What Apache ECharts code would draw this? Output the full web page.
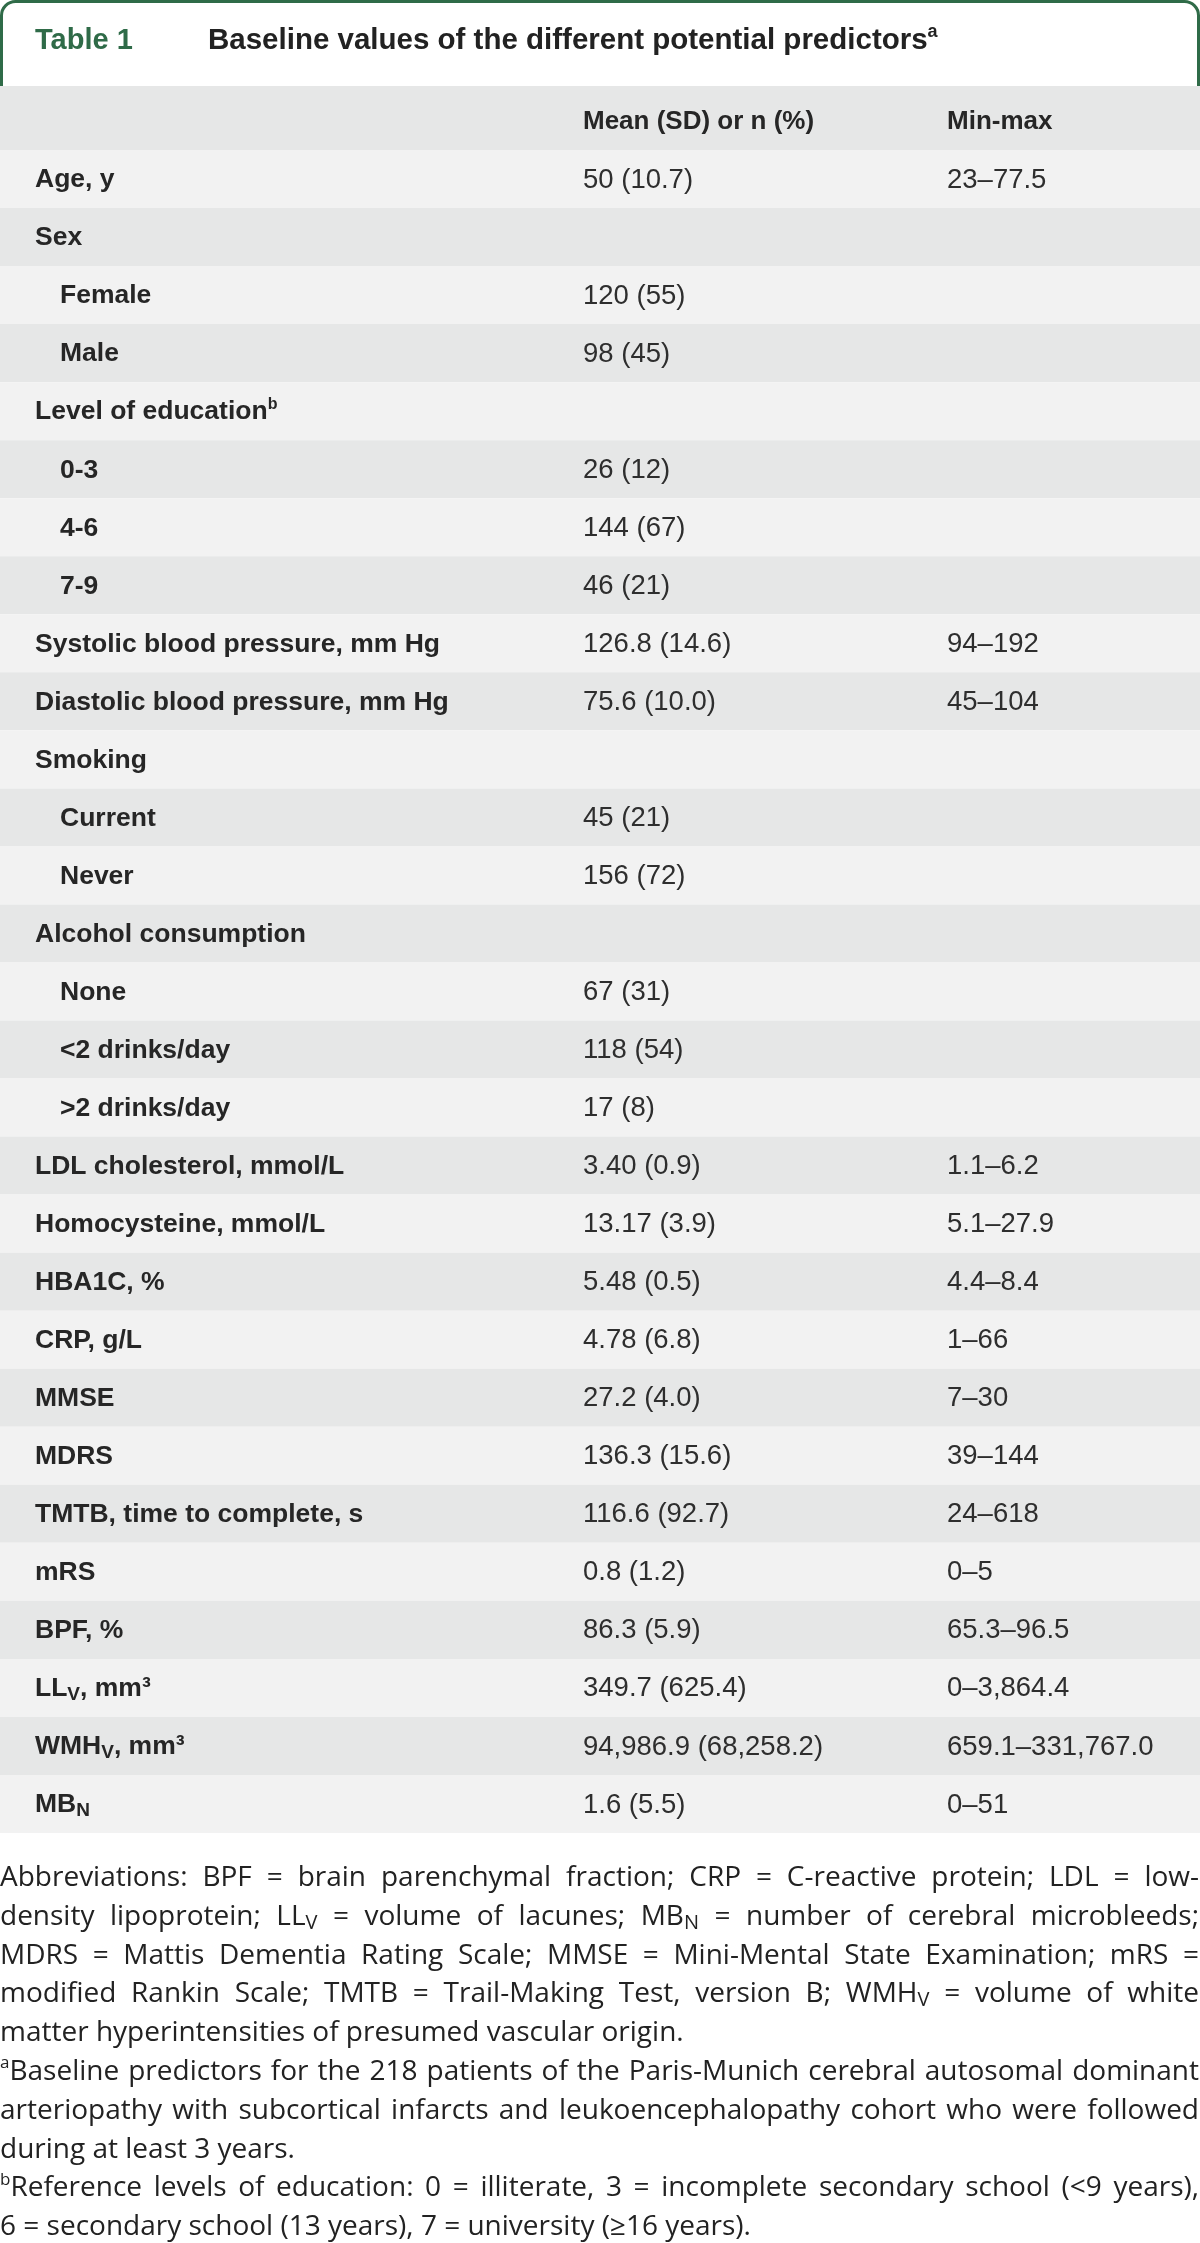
<!DOCTYPE html>
<html><head><meta charset="utf-8">
<script src="https://cdn.jsdelivr.net/npm/echarts@6/dist/echarts.min.js"></script>
<style>html,body{margin:0;padding:0;background:#fff}#c{width:1200px;height:2243px}</style>
</head><body><div id="c"></div>
<script>
// ---- DATA ----
const titleNumber = 'Table 1';
const titleText = 'Baseline values of the different potential predictors^a';
const columnHeaders = ['', 'Mean (SD) or n (%)', 'Min-max'];
const rowLabels = ['Age, y','Sex','Female','Male','Level of education^b','0-3','4-6','7-9',
  'Systolic blood pressure, mm Hg','Diastolic blood pressure, mm Hg','Smoking','Current','Never',
  'Alcohol consumption','None','<2 drinks/day','>2 drinks/day','LDL cholesterol, mmol/L',
  'Homocysteine, mmol/L','HBA1C, %','CRP, g/L','MMSE','MDRS','TMTB, time to complete, s','mRS',
  'BPF, %','LL_V, mm³','WMH_V, mm³','MB_N'];
const rowIndent = [0,0,1,1,0,1,1,1,0,0,0,1,1,0,1,1,1,0,0,0,0,0,0,0,0,0,0,0,0];
const meanValues = ['50 (10.7)','','120 (55)','98 (45)','','26 (12)','144 (67)','46 (21)',
  '126.8 (14.6)','75.6 (10.0)','','45 (21)','156 (72)','','67 (31)','118 (54)','17 (8)',
  '3.40 (0.9)','13.17 (3.9)','5.48 (0.5)','4.78 (6.8)','27.2 (4.0)','136.3 (15.6)','116.6 (92.7)',
  '0.8 (1.2)','86.3 (5.9)','349.7 (625.4)','94,986.9 (68,258.2)','1.6 (5.5)'];
const rangeValues = ['23–77.5','','','','','','','','94–192','45–104','','','','','','','',
  '1.1–6.2','5.1–27.9','4.4–8.4','1–66','7–30','39–144','24–618','0–5','65.3–96.5','0–3,864.4',
  '659.1–331,767.0','0–51'];
const footnoteLines = [
  'Abbreviations: BPF = brain parenchymal fraction; CRP = C-reactive protein; LDL = low-',
  'density lipoprotein; LL_V = volume of lacunes; MB_N = number of cerebral microbleeds;',
  'MDRS = Mattis Dementia Rating Scale; MMSE = Mini-Mental State Examination; mRS =',
  'modified Rankin Scale; TMTB = Trail-Making Test, version B; WMH_V = volume of white',
  'matter hyperintensities of presumed vascular origin.',
  '^aBaseline predictors for the 218 patients of the Paris-Munich cerebral autosomal dominant',
  'arteriopathy with subcortical infarcts and leukoencephalopathy cohort who were followed',
  'during at least 3 years.',
  '^bReference levels of education: 0 = illiterate, 3 = incomplete secondary school (<9 years),',
  '6 = secondary school (13 years), 7 = university (≥16 years).'];
const footnoteJustify = [1,1,1,1,0,1,1,0,1,0];

// ---- STYLE / LAYOUT ----
const GREEN = '#2f6b48';
const BODY_FONT = '"Liberation Sans", Arial, sans-serif';
const NOTE_FONT = '"Open Sans", "DejaVu Sans", sans-serif';
const cv = document.createElement('canvas').getContext('2d');
function fontStr(size, weight, fam){ return weight + ' ' + size + 'px ' + fam; }
function measure(t, f){ cv.font = f; return cv.measureText(t).width; }
function parse(str){
  const segs = []; let cur = '';
  for (let i = 0; i < str.length; i++) {
    const ch = str[i];
    if ((ch === '_' || ch === '^') && i + 1 < str.length) {
      if (cur) { segs.push({k:'n', t:cur}); cur=''; }
      segs.push({k: ch === '_' ? 'sub' : 'sup', t: str[i+1]}); i++;
    } else cur += ch;
  }
  if (cur) segs.push({k:'n', t:cur});
  return segs;
}
function segFont(s, o){
  const size = s.k === 'n' ? o.size : Math.round(o.size * (s.k === 'sub' ? 0.7 : 0.62));
  return fontStr(size, o.weight, o.family);
}
function richWidth(str, o){
  return parse(str).reduce((w, s) => w + measure(s.t, segFont(s, o)), 0);
}
function richEls(str, x, y, o){
  const els = []; let cx = x;
  for (const s of parse(str)) {
    const f = segFont(s, o);
    const dy = s.k === 'sub' ? o.size * 0.22 : s.k === 'sup' ? -o.size * 0.3 : 0;
    els.push({type:'text', x:cx, y:y+dy, z:5, silent:true,
      style:{text:s.t, font:f, fill:o.fill, align:'left', verticalAlign:'middle'}});
    cx += measure(s.t, f);
  }
  return els;
}

const headStyle = {size:26, weight:'bold', family:BODY_FONT, fill:'#262626'};
const labelStyle = {size:26.5, weight:'bold', family:BODY_FONT, fill:'#262626'};
const valueStyle = {size:27.5, weight:'normal', family:BODY_FONT, fill:'#2e2e2e'};
const COL_X = [35, 583, 947];
const INDENT = 25;

// graphic elements: header frame, title, column header, footnotes
const graphics = [];
graphics.push({type:'rect', z:0, shape:{x:1.5, y:1.5, width:1197, height:140, r:[14,14,0,0]},
  style:{fill:'#fff', stroke:GREEN, lineWidth:3}, silent:true});
graphics.push({type:'rect', z:1, shape:{x:0, y:86, width:1200, height:64}, style:{fill:'#e6e7e7'}, silent:true});
graphics.push(...richEls(titleNumber, 35, 41, {size:29, weight:'bold', family:BODY_FONT, fill:GREEN}));
graphics.push(...richEls(titleText, 208, 41, {size:29.5, weight:'bold', family:BODY_FONT, fill:'#222'}));
columnHeaders.forEach((h, j) => {
  if (h) graphics.push(...richEls(h, COL_X[j], 122, headStyle));
});
const noteStyle = {size:28, weight:'normal', family:NOTE_FONT, fill:'#222'};
footnoteLines.forEach((line, li) => {
  const y = 1878 + li * 38.8;
  const words = line.split(' ');
  const widths = words.map(w => richWidth(w, noteStyle));
  const total = widths.reduce((a, b) => a + b, 0);
  const sp = measure(' ', fontStr(noteStyle.size, noteStyle.weight, noteStyle.family));
  const gap = footnoteJustify[li] ? (1199 - total) / (words.length - 1) : sp;
  let x = 0;
  words.forEach((w, wi) => { graphics.push(...richEls(w, x, y, noteStyle)); x += widths[wi] + gap; });
});

const chart = echarts.init(document.getElementById('c'), null, {renderer:'canvas'});
chart.setOption({
  backgroundColor:'#fff',
  animation:false,
  grid:{left:0, right:0, top:150, height:1683, containLabel:false},
  xAxis:{type:'value', min:0, max:1200, show:false},
  yAxis:{type:'category', data:rowLabels, inverse:true, show:false},
  graphic: graphics,
  series:[{
    type:'custom',
    data: rowLabels.map((_, i) => [0, i]),
    encode:{x:0, y:1},
    renderItem: function(params, api){
      const i = api.value(1);
      const c0 = api.coord([0, i]);
      const c1 = api.coord([1200, i]);
      const h = api.size([0, 1])[1];
      const cy = c0[1] + 1;
      const children = [{type:'rect', shape:{x:c0[0], y:c0[1]-h/2, width:c1[0]-c0[0], height:h},
        style:{fill: i % 2 === 0 ? '#f2f2f2' : '#e6e7e7'}}];
      const lx = api.coord([COL_X[0] + (rowIndent[i] ? INDENT : 0), i])[0];
      children.push(...richEls(rowLabels[i], lx, cy, labelStyle));
      if (meanValues[i]) children.push(...richEls(meanValues[i], api.coord([COL_X[1], i])[0], cy, valueStyle));
      if (rangeValues[i]) children.push(...richEls(rangeValues[i], api.coord([COL_X[2], i])[0], cy, valueStyle));
      return {type:'group', children};
    }
  }]
});
</script></body></html>
